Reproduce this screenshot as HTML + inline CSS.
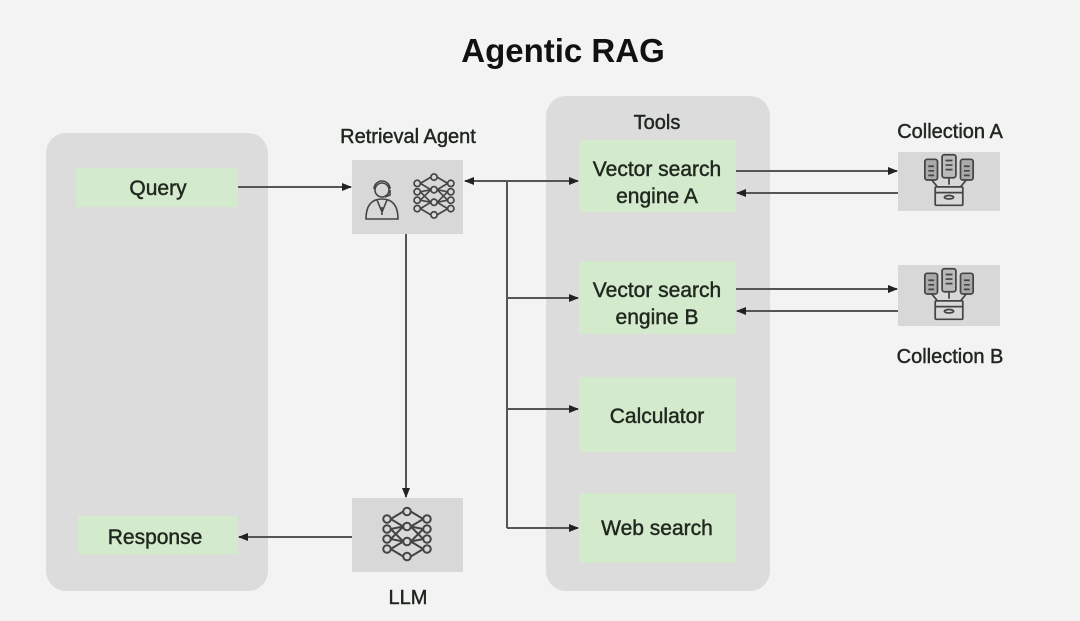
<!DOCTYPE html>
<html><head><meta charset="utf-8"><style>
html,body{margin:0;padding:0;background:#f3f3f3;}
svg{display:block;}
text{font-family:"Liberation Sans",sans-serif;fill:#1f271f;stroke:#1f271f;stroke-width:0.45;}
</style></head><body>
<svg width="1080" height="621" viewBox="0 0 1080 621" xmlns="http://www.w3.org/2000/svg">
<defs>
<marker id="ah" markerWidth="10" markerHeight="10" refX="9" refY="5" orient="auto" markerUnits="userSpaceOnUse">
<path d="M0,1 L10,5 L0,9 z" fill="#222"/></marker>
<g id="nn" fill="none" stroke="#444" stroke-width="1.6">
<circle cx="-16" cy="-12" r="3"/><circle cx="-16" cy="-4" r="3"/><circle cx="-16" cy="4" r="3"/><circle cx="-16" cy="12" r="3"/>
<circle cx="0" cy="-18" r="3"/><circle cx="0" cy="-6" r="3"/><circle cx="0" cy="6" r="3"/><circle cx="0" cy="18" r="3"/>
<circle cx="16" cy="-12" r="3"/><circle cx="16" cy="-4" r="3"/><circle cx="16" cy="4" r="3"/><circle cx="16" cy="12" r="3"/>
<path d="M-13,-12 L-3,-18 M-13,-12 L-3,-6 M-13,-4 L-3,-6 M-13,-4 L-3,6 M-13,4 L-3,-6 M-13,4 L-3,6 M-13,12 L-3,6 M-13,12 L-3,18 M13,-12 L3,-18 M13,-12 L3,-6 M13,-4 L3,-6 M13,-4 L3,6 M13,4 L3,-6 M13,4 L3,6 M13,12 L3,6 M13,12 L3,18"/>
</g>
<g id="col" fill="none" stroke="#444" stroke-width="1.5">
<rect x="-21" y="-18" width="11" height="18" rx="2" fill="#aaa"/>
<rect x="-6" y="-22" width="12" height="20" rx="2" fill="#bbb"/>
<rect x="10" y="-18" width="11" height="18" rx="2" fill="#aaa"/>
<path d="M-18,-12h5 M-18,-8h5 M-18,-4h5 M-3,-17h6 M-3,-13h6 M-3,-9h6 M13,-12h5 M13,-8h5 M13,-4h5"/>
<path d="M-15,0 L-10,6 M15,0 L10,6 M0,-2 L0,4"/>
<rect x="-12" y="6" width="24" height="16" rx="1"/>
<path d="M-12,11h24"/><ellipse cx="0" cy="15" rx="4" ry="1.5"/>
</g>
</defs>

<text x="563" y="62" font-size="33" font-weight="bold" text-anchor="middle" style="fill:#111;stroke:none">Agentic RAG</text>

<rect x="46" y="133" width="222" height="458" rx="20" fill="#dcdcdc"/>
<rect x="546" y="96" width="224" height="495" rx="20" fill="#dcdcdc"/>

<rect x="76" y="168" width="162" height="39" fill="#d3eacc"/>
<text x="158" y="195" font-size="21" text-anchor="middle">Query</text>
<rect x="78" y="516" width="160" height="39" fill="#d3eacc"/>
<text x="155" y="544" font-size="21" text-anchor="middle">Response</text>

<text x="408" y="143" font-size="20" text-anchor="middle">Retrieval Agent</text>
<rect x="352" y="160" width="111" height="74" fill="#d8d8d8"/>
<g fill="none" stroke="#444" stroke-width="1.6">
<circle cx="382" cy="190" r="7"/>
<path d="M374,189 a8,8 0 0 1 16,0 M390,190 l0,5 l-5,2"/>
<path d="M366,219 c0,-15 7,-20 16,-20 c9,0 16,5 16,20 z"/>
<path d="M377,200 l5,12 l5,-12 M382,207 v8"/>
</g>
<g transform="translate(434,196) scale(1.05)"><use href="#nn"/></g>

<rect x="352" y="498" width="111" height="74" fill="#d8d8d8"/>
<g transform="translate(407,534) scale(1.25)"><use href="#nn"/></g>
<text x="408" y="604" font-size="20" text-anchor="middle">LLM</text>

<text x="657" y="129" font-size="20" text-anchor="middle">Tools</text>
<rect x="579" y="140" width="157" height="72" fill="#d3eacc"/>
<text x="657" y="176" font-size="21" text-anchor="middle">Vector search</text>
<text x="657" y="203" font-size="21" text-anchor="middle">engine A</text>
<rect x="579" y="261" width="157" height="73" fill="#d3eacc"/>
<text x="657" y="297" font-size="21" text-anchor="middle">Vector search</text>
<text x="657" y="324" font-size="21" text-anchor="middle">engine B</text>
<rect x="579" y="377" width="157" height="75" fill="#d3eacc"/>
<text x="657" y="423" font-size="21" text-anchor="middle">Calculator</text>
<rect x="579" y="493" width="157" height="70" fill="#d3eacc"/>
<text x="657" y="535" font-size="21" text-anchor="middle">Web search</text>

<text x="950" y="138" font-size="20" text-anchor="middle">Collection A</text>
<rect x="898" y="152" width="102" height="59" fill="#d8d8d8"/>
<g transform="translate(949,180) scale(1.15)"><use href="#col"/></g>
<rect x="898" y="265" width="102" height="61" fill="#d8d8d8"/>
<g transform="translate(949,294) scale(1.15)"><use href="#col"/></g>
<text x="950" y="363" font-size="20" text-anchor="middle">Collection B</text>

<g stroke="#555" stroke-width="2" fill="none">
<line x1="238" y1="187" x2="351" y2="187" marker-end="url(#ah)"/>
<line x1="507" y1="181" x2="465" y2="181" marker-end="url(#ah)"/>
<line x1="507" y1="181" x2="578" y2="181" marker-end="url(#ah)"/>
<line x1="507" y1="181" x2="507" y2="528"/>
<line x1="507" y1="298" x2="578" y2="298" marker-end="url(#ah)"/>
<line x1="507" y1="409" x2="578" y2="409" marker-end="url(#ah)"/>
<line x1="507" y1="528" x2="578" y2="528" marker-end="url(#ah)"/>
<line x1="406" y1="234" x2="406" y2="497" marker-end="url(#ah)"/>
<line x1="352" y1="537" x2="239" y2="537" marker-end="url(#ah)"/>
<line x1="736" y1="171" x2="897" y2="171" marker-end="url(#ah)"/>
<line x1="898" y1="193" x2="737" y2="193" marker-end="url(#ah)"/>
<line x1="736" y1="289" x2="897" y2="289" marker-end="url(#ah)"/>
<line x1="898" y1="311" x2="737" y2="311" marker-end="url(#ah)"/>
</g>
</svg>
</body></html>
